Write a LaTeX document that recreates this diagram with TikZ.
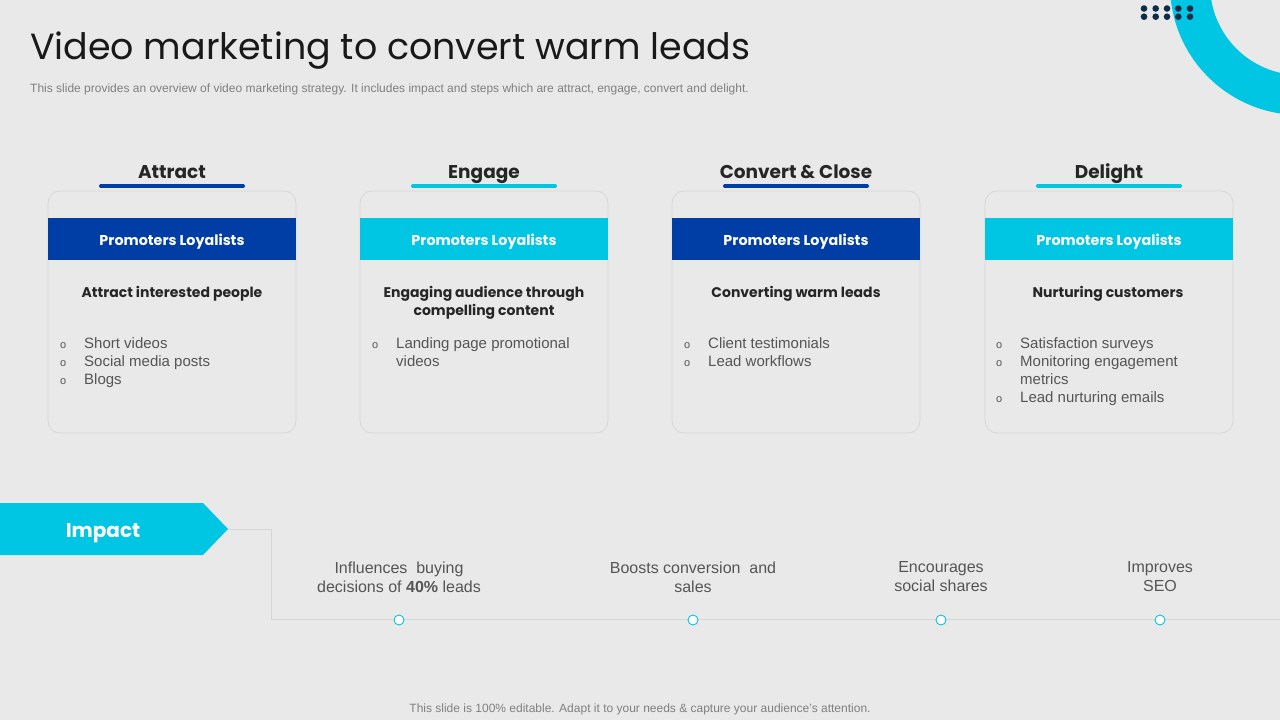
\documentclass[tikz,border=0pt]{standalone}
\usepackage{fontspec}
\setmainfont{Liberation Sans}
\newfontfamily\gothic{Poppins}
\definecolor{bgc}{HTML}{E9E9E9}
\definecolor{cyanc}{HTML}{00C5E3}
\definecolor{navyc}{HTML}{003DA5}
\definecolor{dotc}{HTML}{0B2D4A}
\definecolor{bordc}{HTML}{D6D6D6}
\definecolor{txtc}{HTML}{555555}
\definecolor{headc}{HTML}{262626}
\begin{document}
\begin{tikzpicture}[x=1pt,y=-1pt,
  card/.style={draw=bordc,line width=0.8pt,rounded corners=12pt,minimum width=248pt,minimum height=242pt,inner sep=0pt},
  banner/.style={fill=#1,minimum width=248pt,minimum height=42pt,inner sep=0pt},
  bantxt/.style={anchor=base,inner sep=0pt,text=white,font=\gothic\bfseries\fontsize{14.3}{17}\selectfont},
  colhead/.style={anchor=base,inner sep=0pt,font=\gothic\bfseries\fontsize{18.5}{22}\selectfont,text=headc},
  bar/.style={line width=4pt,line cap=round,draw=#1},
  subhead/.style={anchor=base,inner sep=0pt,font=\gothic\bfseries\fontsize{14}{18}\selectfont,text=headc,align=center},
  bullets/.style={anchor=north west,font=\fontsize{15}{18}\selectfont,text=txtc,align=left,inner sep=0pt},
  impacttxt/.style={font=\fontsize{16}{19}\selectfont,text=txtc,align=center},
  dot/.style={circle,draw=cyanc,fill=white,line width=0.9pt,minimum size=10pt,inner sep=0pt},
  conn/.style={draw=bordc,line width=1pt}]
\useasboundingbox (0,0) rectangle (1280,720);
\fill[bgc] (0,0) rectangle (1280,720);
% decorative ring and dots
\begin{scope}
\clip (0,0) rectangle (1280,720);
\fill[cyanc,even odd rule] (1300,-15) circle (130) (1300,-15) circle (90);
\end{scope}
\foreach \xx in {1144,1155.7,1167,1178.3,1190}{
  \foreach \yy in {8.5,16.7}{\fill[dotc] (\xx,\yy) circle (3.3);}}
% title
\node[anchor=base west,inner sep=0pt,font=\gothic\fontsize{36.4}{40}\selectfont,text=black!90] (title) at (30,59) {Video marketing to convert warm leads};
\node[anchor=base west,inner sep=0pt,font=\fontsize{12}{14}\selectfont,text=gray] (sub) at (30,92) {This slide provides an overview of video marketing strategy. It includes impact and steps which are attract, engage, convert and delight.};
% columns
\foreach \cx/\head/\col/\nm in {172/Attract/navyc/a,484/Engage/cyanc/b,796/Convert \& Close/navyc/c,1109/Delight/cyanc/d}{
  \node[card] (card\nm) at (\cx,312) {};
  \node[colhead] (head\nm) at (\cx,178) {\head};
  \draw[bar=\col] (\cx-71,186) -- (\cx+71,186);
  \node[banner=\col] (ban\nm) at (\cx,239) {};
  \node[bantxt] (bt\nm) at (\cx,245) {Promoters Loyalists};
}
\node[subhead] (suba) at (172,297) {Attract interested people};
\node[subhead] (subb) at (484,315) {Engaging audience through\\compelling content};
\node[subhead] (subc) at (796,297) {Converting warm leads};
\node[subhead] (subd) at (1108,297) {Nurturing customers};
\newcommand{\bl}{\makebox[24pt][l]{\fontsize{11}{18}\selectfont o}}
\node[bullets] (bula) at (60,337) {\bl Short videos\\\bl Social media posts\\\bl Blogs};
\node[bullets] (bulb) at (372,337) {\bl Landing page promotional\\\hspace*{24pt}videos};
\node[bullets] (bulc) at (684,337) {\bl Client testimonials\\\bl Lead workflows};
\node[bullets] (buld) at (996,337) {\bl Satisfaction surveys\\\bl Monitoring engagement\\\hspace*{24pt}metrics\\\bl Lead nurturing emails};
% impact
\fill[cyanc] (0,503) -- (203,503) -- (228,529) -- (203,555) -- (0,555) -- cycle;
\node[anchor=base,inner sep=0pt,font=\gothic\bfseries\fontsize{20}{24}\selectfont,text=white] (impact) at (103,537) {Impact};
\coordinate (tip) at (228,529);
\coordinate (bend) at (271,529);
\coordinate (lineend) at (1280,619.5);
\draw[conn] (tip) -- (bend) |- (lineend);
\foreach \px/\nm in {399/p1,693/p2,941/p3,1160/p4}{\node[dot] (\nm) at (\px,620) {};}
\node[impacttxt] (t1) at (399,577) {Influences\ \ buying\\decisions of \textbf{40\%} leads};
\node[impacttxt] (t2) at (693,577) {Boosts conversion\ \ and\\sales};
\node[impacttxt] (t3) at (941,577) {Encourages\\social shares};
\node[impacttxt] (t4) at (1160,577) {Improves\\SEO};
\node[font=\fontsize{12}{14}\selectfont,text=gray] (foot) at (640,709) {This slide is 100\% editable. Adapt it to your needs \& capture your audience’s attention.};
\end{tikzpicture}
\end{document}
